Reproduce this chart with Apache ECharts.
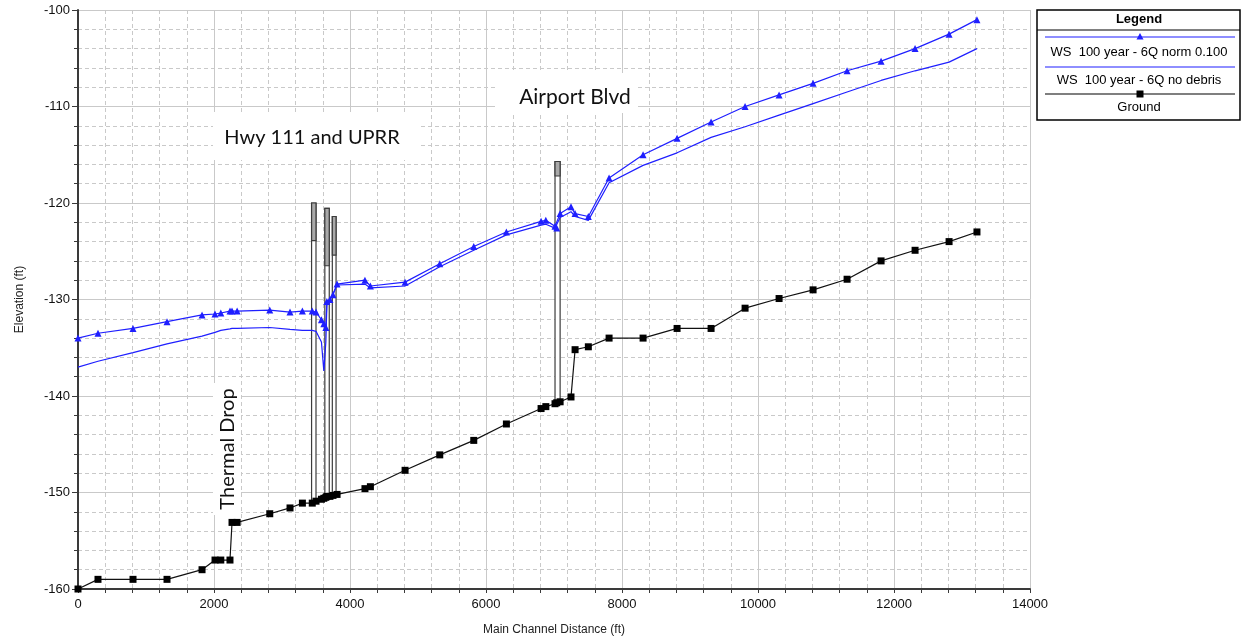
<!DOCTYPE html>
<html>
<head>
<meta charset="utf-8">
<script src="https://cdn.jsdelivr.net/npm/echarts@6/dist/echarts.min.js"></script>
<style>
html,body{margin:0;padding:0;background:#fff;}
#chart{width:1243px;height:640px;}
</style>
</head>
<body>
<div id="chart"></div>
<script>
// ---- data ----
const stations = [0, 294, 809, 1309, 1824, 2015, 2100, 2235, 2265, 2340, 2820, 3118, 3300, 3445, 3500, 3580, 3615, 3645, 3660, 3705, 3750, 3810, 4220, 4300, 4810, 5320, 5820, 6300, 6810, 6880, 7015, 7040, 7090, 7250, 7310, 7505, 7810, 8310, 8810, 9310, 9810, 10310, 10810, 11310, 11810, 12310, 12810, 13220];
const groundElev = [-160, -159, -159, -159, -158, -157, -157, -157, -153.1, -153.1, -152.2, -151.6, -151.1, -151.1, -150.9, -150.7, -150.6, -150.5, -150.4, -150.4, -150.3, -150.2, -149.6, -149.4, -147.7, -146.1, -144.6, -142.9, -141.3, -141.1, -140.8, -140.7, -140.6, -140.1, -135.2, -134.9, -134.0, -134.0, -133.0, -133.0, -130.9, -129.9, -129.0, -127.9, -126.0, -124.9, -124.0, -123.0];
const wsNorm = [-134.0, -133.5, -133.0, -132.3, -131.6, -131.5, -131.4, -131.2, -131.2, -131.2, -131.1, -131.3, -131.2, -131.2, -131.3, -132.1, -132.5, -132.9, -130.2, -130.0, -129.5, -128.4, -128.0, -128.6, -128.2, -126.3, -124.5, -123.0, -121.9, -121.8, -122.4, -122.6, -121.1, -120.4, -121.1, -121.4, -117.4, -115.0, -113.3, -111.6, -110.0, -108.8, -107.6, -106.3, -105.3, -104.0, -102.5, -101.0];
const wsNoDebris = [-137.0, -136.4, -135.5, -134.6, -133.8, -133.4, -133.2, -133.05, -133.0, -133.0, -132.9, -133.1, -133.2, -133.2, -133.3, -134.4, -137.4, -134.4, -130.6, -130.0, -129.4, -128.5, -128.4, -128.8, -128.6, -126.6, -124.9, -123.3, -122.3, -122.2, -122.6, -122.7, -121.5, -120.9, -121.4, -121.8, -117.9, -116.1, -114.8, -113.2, -112.1, -110.9, -109.7, -108.5, -107.3, -106.3, -105.4, -104.0];

const bridgeStart = [3435, 3630, 3740, 7015];
const bridgeEnd = [3500, 3695, 3795, 7090];
const bridgeHighChord = [-120.0, -120.55, -121.4, -115.7];
const bridgeLowChord = [-123.9, -126.5, -125.4, -117.2];
const bridgeGround = [-151.0, -150.45, -150.25, -140.7];

const seriesNames = ['WS  100 year - 6Q norm 0.100', 'WS  100 year - 6Q no debris', 'Ground'];
const xName = 'Main Channel Distance (ft)';
const yName = 'Elevation (ft)';
const notes = ['Hwy 111 and UPRR', 'Airport Blvd', 'Thermal Drop'];

// ---- build ----
const zip = (xs, ys) => xs.map((x, i) => [x, ys[i]]);
const bridgeData = bridgeStart.map((s, i) => [s, bridgeEnd[i], bridgeHighChord[i], bridgeLowChord[i], bridgeGround[i]]);

const BLUE = '#1f1fff';
const gridColor = '#c9c9c9';
const tickFont = 'Liberation Sans, Arial, sans-serif';
const noteFont = 'Lato, Open Sans, sans-serif';

const chart = echarts.init(document.getElementById('chart'), null, {renderer: 'canvas'});

const option = {
  animation: false,
  backgroundColor: '#fff',
  grid: {left: 78, right: 213, top: 10, bottom: 51, containLabel: false, outerBoundsMode: 'none'},
  xAxis: {
    type: 'value', min: 0, max: 14000, interval: 2000,
    name: xName, nameLocation: 'middle', nameGap: 35,
    nameTextStyle: {fontFamily: tickFont, fontSize: 12, color: '#222'},
    axisLine: {show: true, onZero: false, lineStyle: {color: '#3a3a3a', width: 2}},
    axisTick: {show: true, length: 4, lineStyle: {color: '#3a3a3a'}},
    minorTick: {show: true, splitNumber: 5, length: 4, lineStyle: {color: '#3a3a3a'}},
    axisLabel: {fontFamily: tickFont, fontSize: 13, color: '#111', margin: 9, formatter: v => String(v)},
    splitLine: {show: true, lineStyle: {color: gridColor, width: 1}},
    minorSplitLine: {show: true, lineStyle: {color: gridColor, width: 1, type: [4, 3]}}
  },
  yAxis: {
    type: 'value', min: -160, max: -100, interval: 10,
    name: yName, nameLocation: 'middle', nameGap: 52, nameRotate: 90,
    nameTextStyle: {fontFamily: tickFont, fontSize: 12, color: '#222'},
    axisLine: {show: true, onZero: false, lineStyle: {color: '#3a3a3a', width: 2}},
    axisTick: {show: true, length: 6, lineStyle: {color: '#3a3a3a'}},
    minorTick: {show: true, splitNumber: 5, length: 4, lineStyle: {color: '#3a3a3a'}},
    axisLabel: {fontFamily: tickFont, fontSize: 13, color: '#111', margin: 8, formatter: v => String(v)},
    splitLine: {show: true, lineStyle: {color: gridColor, width: 1}},
    minorSplitLine: {show: true, lineStyle: {color: gridColor, width: 1, type: [4, 3]}}
  },
  series: [
    {
      name: 'Bridges', type: 'custom', z: 1,
      data: bridgeData,
      encode: {x: [0, 1], y: [2, 3, 4]},
      renderItem: function (params, api) {
        const x1 = api.value(0), x2 = api.value(1), hi = api.value(2), lo = api.value(3), base = api.value(4);
        const pTL = api.coord([x1, hi]);
        const pBR = api.coord([x2, base]);
        const pLo = api.coord([x2, lo]);
        const w = pBR[0] - pTL[0];
        return {
          type: 'group',
          children: [
            {type: 'rect', shape: {x: pTL[0], y: pTL[1], width: w, height: pBR[1] - pTL[1]},
             style: {fill: '#ffffff', stroke: '#3c3c3c', lineWidth: 1.2}},
            {type: 'rect', shape: {x: pTL[0], y: pTL[1], width: w, height: pLo[1] - pTL[1]},
             style: {fill: '#a9a9a9', stroke: '#3c3c3c', lineWidth: 1.2}}
          ]
        };
      }
    },
    {
      name: seriesNames[1], type: 'line', z: 3,
      data: zip(stations, wsNoDebris),
      showSymbol: false, symbol: 'none',
      lineStyle: {color: BLUE, width: 1.2}, itemStyle: {color: BLUE}
    },
    {
      name: seriesNames[0], type: 'line', z: 4,
      data: zip(stations, wsNorm),
      symbol: 'triangle', symbolSize: 7, showAllSymbol: true,
      lineStyle: {color: BLUE, width: 1.2}, itemStyle: {color: BLUE}
    },
    {
      name: seriesNames[2], type: 'line', z: 4,
      data: zip(stations, groundElev),
      symbol: 'rect', symbolSize: 7, showAllSymbol: true,
      lineStyle: {color: '#111', width: 1.2}, itemStyle: {color: '#000'}
    }
  ],
  graphic: [
    // annotation boxes
    {type: 'rect', z: 50, shape: {x: 213, y: 112, width: 205, height: 48}, style: {fill: '#fff'}},
    {type: 'text', z: 51, x: 312, y: 138, style: {text: notes[0], font: '20px ' + noteFont, fill: '#111', align: 'center', verticalAlign: 'middle'}},
    {type: 'rect', z: 50, shape: {x: 495, y: 73, width: 143, height: 40}, style: {fill: '#fff'}},
    {type: 'text', z: 51, x: 575, y: 97, style: {text: notes[1], font: '21px ' + noteFont, fill: '#111', align: 'center', verticalAlign: 'middle'}},
    {type: 'rect', z: 50, shape: {x: 213, y: 383, width: 28, height: 132}, style: {fill: '#fff'}},
    {type: 'text', z: 51, x: 228, y: 449, rotation: Math.PI / 2, style: {text: notes[2], font: '20px ' + noteFont, fill: '#111', align: 'center', verticalAlign: 'middle'}},
    // legend
    {type: 'rect', z: 60, shape: {x: 1037, y: 10, width: 203, height: 110}, style: {fill: '#fff', stroke: '#000', lineWidth: 1.5}},
    {type: 'line', z: 61, shape: {x1: 1037, y1: 30, x2: 1240, y2: 30}, style: {stroke: '#000', lineWidth: 1}},
    {type: 'text', z: 61, x: 1139, y: 19, style: {text: 'Legend', font: 'bold 13px ' + tickFont, fill: '#000', align: 'center', verticalAlign: 'middle'}},
    {type: 'line', z: 61, shape: {x1: 1045, y1: 37, x2: 1235, y2: 37}, style: {stroke: BLUE, lineWidth: 1.2}},
    {type: 'polygon', z: 62, shape: {points: [[1140, 33], [1136.5, 39.5], [1143.5, 39.5]]}, style: {fill: BLUE}},
    {type: 'text', z: 61, x: 1139, y: 52, style: {text: seriesNames[0], font: '13px ' + tickFont, fill: '#000', align: 'center', verticalAlign: 'middle'}},
    {type: 'line', z: 61, shape: {x1: 1045, y1: 67, x2: 1235, y2: 67}, style: {stroke: BLUE, lineWidth: 1.2}},
    {type: 'text', z: 61, x: 1139, y: 80, style: {text: seriesNames[1], font: '13px ' + tickFont, fill: '#000', align: 'center', verticalAlign: 'middle'}},
    {type: 'line', z: 61, shape: {x1: 1045, y1: 94, x2: 1235, y2: 94}, style: {stroke: '#000', lineWidth: 1.2}},
    {type: 'rect', z: 62, shape: {x: 1136.5, y: 90.5, width: 7, height: 7}, style: {fill: '#000'}},
    {type: 'text', z: 61, x: 1139, y: 107, style: {text: seriesNames[2], font: '13px ' + tickFont, fill: '#000', align: 'center', verticalAlign: 'middle'}}
  ]
};
chart.setOption(option);
</script>
</body>
</html>
